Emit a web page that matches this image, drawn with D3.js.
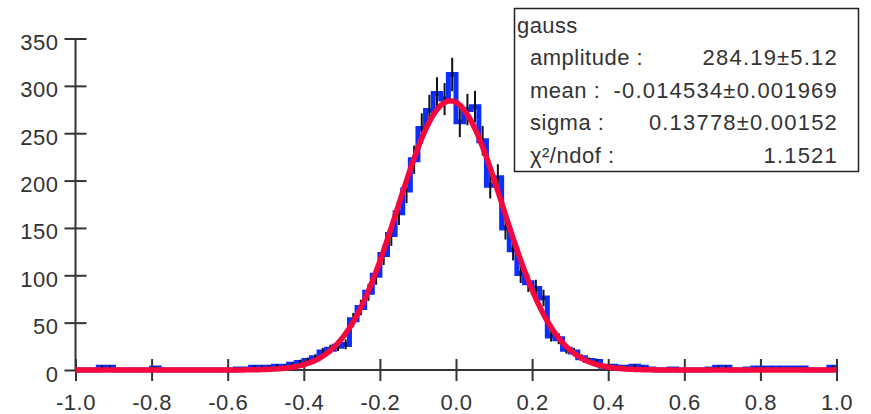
<!DOCTYPE html>
<html>
<head>
<meta charset="utf-8">
<script src="https://cdn.jsdelivr.net/npm/d3@7"></script>
<style>
  body { margin: 0; background: #fff; }
  svg text { font-family: "Liberation Sans", Arial, sans-serif; fill: #333; }
</style>
</head>
<body>
<div id="chart"></div>
<script>
// histogram: 100 bins from -1 to 1 (bin width 0.02)
const binEdges = [-1, 1];
const binCount = 100;
const counts = [
  0, 0, 0, 3, 3, 0, 0, 0, 0, 0,
  2, 0, 0, 0, 0, 0, 0, 0, 0, 0,
  0, 1, 1, 3, 3, 3, 4, 4, 6, 8,
  10, 13, 19, 22, 25, 27, 53, 66, 82, 100,
  122, 143, 166, 190, 222, 255, 274, 292, 286, 312,
  262, 275, 278, 242, 195, 203, 150, 127, 102, 92,
  86, 76, 36, 33, 22, 19, 13, 10, 9, 4,
  4, 3, 3, 4, 3, 1, 0, 0, 1, 0,
  0, 0, 0, 1, 3, 3, 0, 0, 1, 2,
  2, 2, 2, 2, 2, 2, 0, 0, 0, 3
];

// fit result shown in the stats box
const fitName = "gauss";
const fitParams = [284.19, -0.014534, 0.13778]; // amplitude, mean, sigma
const statLabels = ["amplitude :", "mean :", "sigma :", "\u03c7\u00b2/ndof :"];
const statValues = ["284.19\u00b15.12", "-0.014534\u00b10.001969", "0.13778\u00b10.00152", "1.1521"];

const xTicks = [-1.0, -0.8, -0.6, -0.4, -0.2, 0.0, 0.2, 0.4, 0.6, 0.8, 1.0];
const yTicks = [0, 50, 100, 150, 200, 250, 300, 350];

const width = 871, height = 414;

const svg = d3.select("#chart")
    .append("svg")
    .attr("width", width)
    .attr("height", height);

const x = d3.scaleLinear().domain([-1, 1]).range([75.5, 836.5]);
const y = d3.scaleLinear().domain([0, 350]).range([370, 38.5]);

const bw = (binEdges[1] - binEdges[0]) / binCount;
const bins = counts.map((v, i) => ({
    lo: binEdges[0] + i * bw,
    hi: binEdges[0] + (i + 1) * bw,
    c: binEdges[0] + (i + 0.5) * bw,
    v: v
}));

// step outline of the histogram
const stepPts = [];
bins.forEach(b => { stepPts.push([b.lo, b.v]); stepPts.push([b.hi, b.v]); });

svg.append("path")
    .datum(stepPts)
    .attr("fill", "none")
    .attr("stroke", "#0a2eff")
    .attr("stroke-width", 5)
    .attr("stroke-linejoin", "miter")
    .attr("d", d3.line().x(d => x(d[0])).y(d => y(d[1])));

// error bars
svg.selectAll("line.err")
    .data(bins.filter(b => b.v > 0))
    .enter()
    .append("line")
    .classed("err", true)
    .attr("x1", d => x(d.c))
    .attr("x2", d => x(d.c))
    .attr("y1", d => y(d.v + Math.sqrt(d.v)))
    .attr("y2", d => y(d.v - Math.sqrt(d.v)))
    .attr("stroke", "#111")
    .attr("stroke-width", 2);

// axes (plain hyphen for negatives, like the original)
const fmtX = d => d3.format(".1f")(d).replace("\u2212", "-");

const yAxis = svg.append("g")
    .attr("transform", `translate(${x(-1)},0)`)
    .call(d3.axisLeft(y).tickValues(yTicks).tickSize(11).tickPadding(6).tickFormat(d3.format("d")));

const xAxis = svg.append("g")
    .attr("transform", `translate(0,${y(0)})`)
    .call(d3.axisBottom(x).tickValues(xTicks).tickSize(11).tickFormat(fmtX));

[yAxis, xAxis].forEach(g => {
    g.select(".domain").attr("stroke", "#333").attr("stroke-width", 2);
    g.selectAll(".tick line").attr("stroke", "#333").attr("stroke-width", 2);
    g.selectAll(".tick text").attr("font-size", 22).style("letter-spacing", "0.5px").attr("fill", "#333");
});
yAxis.select(".domain").attr("d", `M0,${y(0)}V${y(350)}`);
xAxis.select(".domain").attr("d", `M${x(-1)},0H${x(1)}`);
yAxis.selectAll(".tick").append("line").attr("x2", 11).attr("stroke", "#333").attr("stroke-width", 2);
xAxis.selectAll(".tick").append("line").attr("y2", -11).attr("stroke", "#333").attr("stroke-width", 2);
yAxis.selectAll(".tick text").attr("dy", "0.5em");
xAxis.selectAll(".tick text").attr("y", 40).attr("dy", 0);

// fitted gaussian
const [amp, mu, sig] = fitParams;
const fitPts = d3.range(-1, 1.0001, 0.004).map(t => [t, amp * Math.exp(-0.5 * ((t - mu) / sig) ** 2)]);
svg.append("path")
    .datum(fitPts)
    .attr("fill", "none")
    .attr("stroke", "#f5083e")
    .attr("stroke-width", 5.5)
    .attr("stroke-linejoin", "round")
    .attr("d", d3.line().x(d => x(d[0])).y(d => y(d[1])));

// stats box
const box = svg.append("g");
box.append("rect")
    .attr("x", 514.5).attr("y", 8.5)
    .attr("width", 344).attr("height", 163)
    .attr("fill", "#fff")
    .attr("stroke", "#222")
    .attr("stroke-width", 1.5);
box.append("text")
    .attr("x", 517).attr("y", 33)
    .attr("font-size", 22)
    .style("letter-spacing", "0.4px")
    .text(fitName);
statLabels.forEach((s, i) => {
    box.append("text")
        .attr("x", 530).attr("y", 65 + i * 32.5)
        .attr("font-size", 22)
        .style("letter-spacing", "0.5px")
        .text(s);
    box.append("text")
        .attr("x", 838).attr("y", 65 + i * 32.5)
        .attr("font-size", 22)
        .attr("text-anchor", "end")
        .style("letter-spacing", "1.2px")
        .text(statValues[i]);
});
</script>
</body>
</html>
